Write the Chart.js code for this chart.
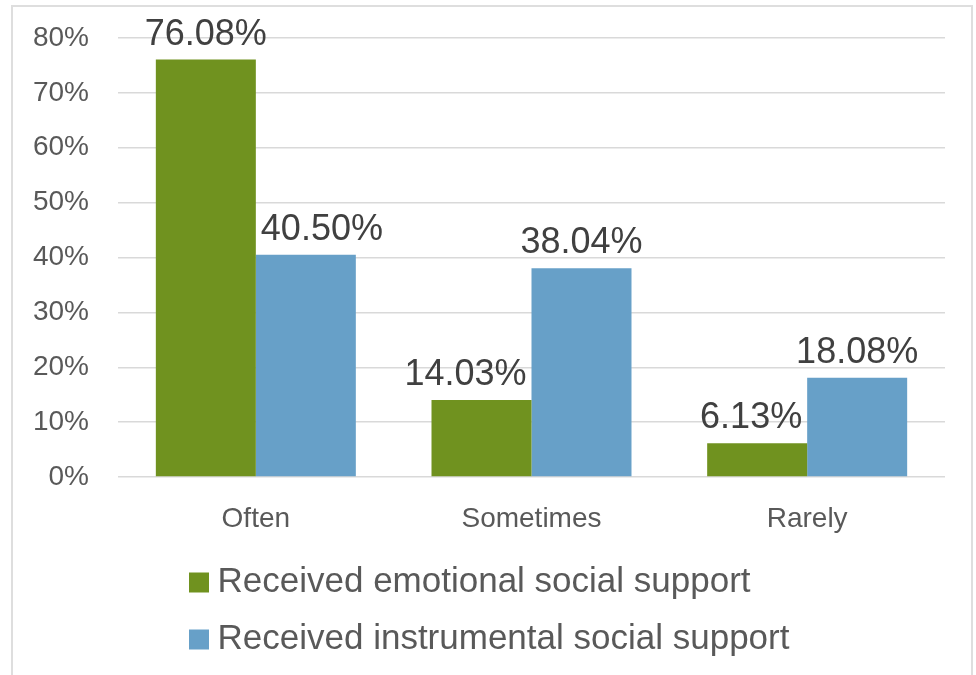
<!DOCTYPE html>
<html>
<head>
<meta charset="utf-8">
<script src="https://cdn.jsdelivr.net/npm/chart.js@4/dist/chart.umd.min.js"></script>
<style>
  html, body { margin: 0; padding: 0; background: #ffffff; }
  #frame { position: absolute; left: 11px; top: 5px; width: 962px; height: 700px; border: 2px solid #dedede; box-sizing: border-box; }
  #wrap { position: absolute; left: 0; top: 0; width: 976px; height: 675px; }
</style>
</head>
<body>
<div id="frame"></div>
<div id="wrap"><canvas id="c" width="976" height="675"></canvas></div>
<script>
const categories = ['Often', 'Sometimes', 'Rarely'];
const seriesNames = ['Received emotional social support', 'Received instrumental social support'];
const emotional = [76.08, 14.03, 6.13];
const instrumental = [40.50, 38.04, 18.08];
const yTicks = [0, 10, 20, 30, 40, 50, 60, 70, 80];

const GREEN = '#70921f';
const BLUE = '#67a0c8';
const FONT = '"Liberation Sans", Arial, sans-serif';

Chart.defaults.font.family = FONT;

const valueLabels = {
  id: 'valueLabels',
  afterDatasetsDraw(chart) {
    const ctx = chart.ctx;
    ctx.save();
    ctx.font = '36px ' + FONT;
    ctx.fillStyle = '#404040';
    ctx.textAlign = 'center';
    ctx.textBaseline = 'alphabetic';
    const metas = chart.data.datasets.map((d, i) => chart.getDatasetMeta(i));
    metas.forEach((meta, di) => {
      meta.data.forEach((bar, idx) => {
        const v = chart.data.datasets[di].data[idx];
        const txt = v.toFixed(2) + '%';
        const w = ctx.measureText(txt).width;
        let cx = bar.x;
        const by = bar.y - 15;
        // keep label clear of a taller neighbouring bar in the same category
        metas.forEach((om, oi) => {
          if (oi === di) return;
          const nb = om.data[idx];
          const nl = nb.x - nb.width / 2, nr = nb.x + nb.width / 2;
          if (nb.y < by) {
            if (nb.x > bar.x && cx + w / 2 > nl - 5) cx = nl - 5 - w / 2;
            if (nb.x < bar.x && cx - w / 2 < nr + 5) cx = nr + 5 + w / 2;
          }
        });
        ctx.fillText(txt, cx, by);
      });
    });
    ctx.restore();
  }
};

const legendPlace = {
  id: 'legendPlace',
  afterLayout(chart) {
    if (chart.legend) {
      const w = chart.legend.right - chart.legend.left;
      chart.legend.left = 176;
      chart.legend.right = 176 + w;
    }
  }
};

new Chart(document.getElementById('c'), {
  type: 'bar',
  data: {
    labels: categories,
    datasets: [
      { label: seriesNames[0], data: emotional, backgroundColor: GREEN, borderWidth: 0 },
      { label: seriesNames[1], data: instrumental, backgroundColor: BLUE, borderWidth: 0 }
    ]
  },
  options: {
    responsive: false,
    animation: false,
    events: [],
    layout: { padding: { left: 0, top: 38, right: 31, bottom: 8 } },
    datasets: { bar: { categoryPercentage: 0.7255, barPercentage: 1.0 } },
    scales: {
      x: {
        grid: { display: false, drawTicks: false },
        border: { display: false },
        ticks: { color: '#595959', font: { size: 28 }, padding: 25 },
        afterFit(s) { s.height = 66; }
      },
      y: {
        min: yTicks[0],
        max: yTicks[yTicks.length - 1],
        afterBuildTicks(s) { s.ticks = yTicks.map(v => ({ value: v })); },
        grid: { color: '#d9d9d9', lineWidth: 1.5, drawTicks: false },
        border: { display: false },
        ticks: { color: '#595959', font: { size: 28 }, padding: 29, callback: v => v + '%' },
        afterFit(s) { s.width = 118; s.paddingTop = 0; s.paddingBottom = 0; }
      }
    },
    plugins: {
      tooltip: { enabled: false },
      legend: {
        display: true,
        position: 'bottom',
        align: 'start',
        labels: {
          color: '#595959',
          font: { size: 35 },
          boxWidth: 2,
          boxHeight: 2,
          padding: 22,
          generateLabels(chart) {
            const items = Chart.defaults.plugins.legend.labels.generateLabels(chart);
            items.forEach(it => { it.lineWidth = 18; it.strokeStyle = it.fillStyle; it.lineJoin = 'miter'; });
            return items;
          }
        }
      }
    }
  },
  plugins: [valueLabels, legendPlace]
});
</script>
</body>
</html>
